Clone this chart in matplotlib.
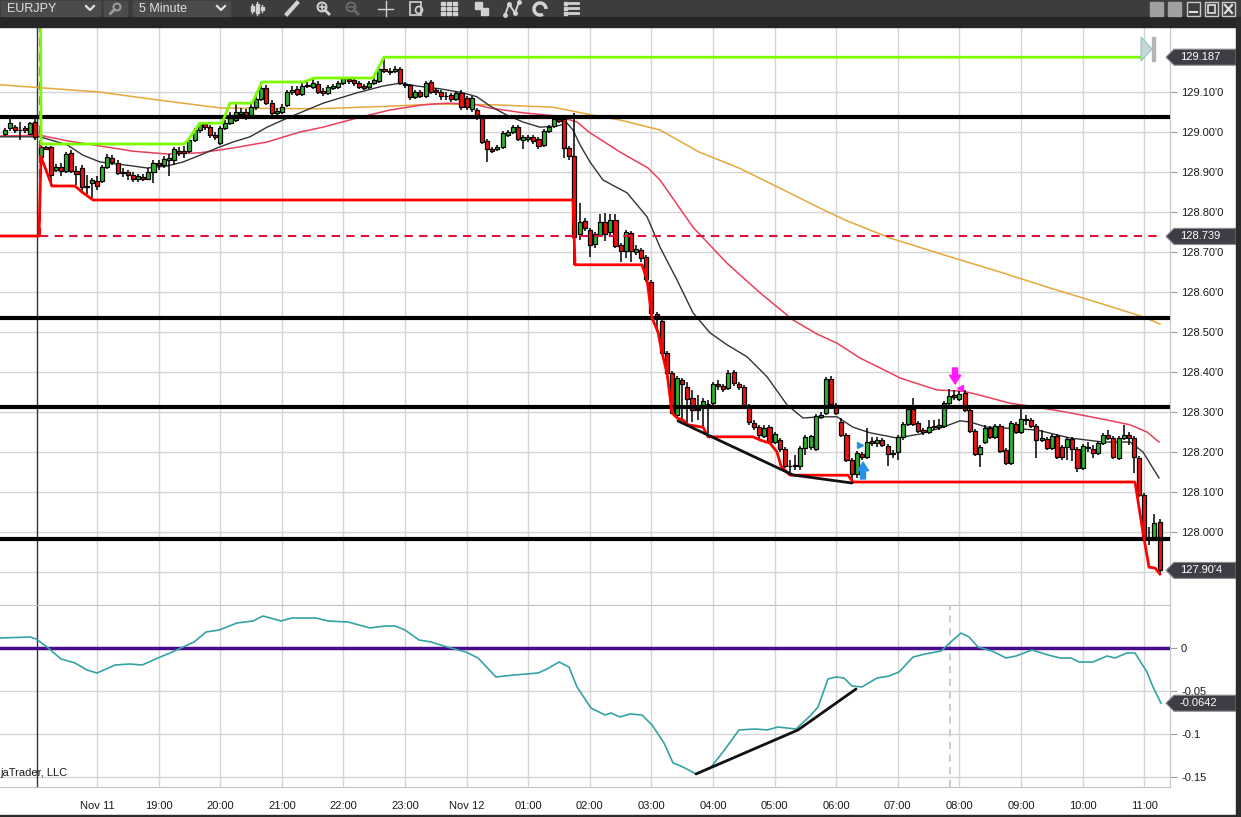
"""EURJPY 5 minute chart with session high/low, moving averages and oscillator panel."""
import numpy as np
import matplotlib
matplotlib.use("Agg")
import matplotlib.pyplot as plt
from matplotlib.patches import Rectangle, Polygon, Circle, Arc
from matplotlib.transforms import blended_transform_factory
from matplotlib.ticker import FuncFormatter

plt.rcParams['font.family'] = ['Liberation Sans', 'DejaVu Sans']

# ---------------------------------------------------------------- data
# time axis: hours from Nov 11 18:00, one candle every 5 minutes, first one 16:30
first_bar = -18
opens = [
    128.995, 129.010, 129.012, 129.005, 129.010, 128.995, 129.025, 128.938, 128.962, 128.962,
    128.905, 128.912, 128.902, 128.948, 128.902, 128.910, 128.865, 128.872, 128.878, 128.878,
    128.912, 128.935, 128.922, 128.900, 128.900, 128.892, 128.882, 128.888, 128.882, 128.900,
    128.922, 128.918, 128.930, 128.930, 128.952, 128.952, 128.952, 128.980, 129.005, 129.020,
    129.012, 128.992, 128.972, 129.010, 129.022, 129.030, 129.045, 129.050, 129.042, 129.062,
    129.082, 129.110, 129.072, 129.048, 129.050, 129.068, 129.100, 129.108, 129.095, 129.115,
    129.112, 129.120, 129.102, 129.098, 129.110, 129.112, 129.122, 129.132, 129.130, 129.122,
    129.115, 129.112, 129.122, 129.128, 129.158, 129.152, 129.152, 129.158, 129.120, 129.118,
    129.088, 129.100, 129.090, 129.125, 129.105, 129.100, 129.090, 129.092, 129.082, 129.098,
    129.085, 129.058, 129.055, 129.035, 128.978, 128.958, 128.958, 128.962, 128.992, 129.000,
    129.012, 128.980, 128.982, 128.988, 128.982, 128.968, 129.002, 129.015, 129.032, 129.032,
    128.960, 128.940, 128.745, 128.778, 128.755, 128.720, 128.742, 128.775, 128.750, 128.780,
    128.718, 128.702, 128.748, 128.700, 128.705, 128.688, 128.625, 128.545, 128.528, 128.448,
    128.398, 128.292, 128.380, 128.362, 128.335, 128.308, 128.312, 128.320, 128.322, 128.370,
    128.365, 128.360, 128.400, 128.370, 128.362, 128.315, 128.272, 128.262, 128.240, 128.262,
    128.225, 128.230, 128.208, 128.165, 128.165, 128.165, 128.210, 128.212, 128.208, 128.288,
    128.298, 128.382, 128.318, 128.275, 128.242, 128.180, 128.145, 128.195, 128.188, 128.228,
    128.222, 128.230, 128.215, 128.198, 128.200, 128.238, 128.270, 128.308, 128.272, 128.255,
    128.250, 128.262, 128.262, 128.265, 128.322, 128.342, 128.332, 128.348, 128.305, 128.252,
    128.195, 128.225, 128.260, 128.238, 128.265, 128.205, 128.172, 128.270, 128.250, 128.282,
    128.280, 128.265, 128.230, 128.232, 128.210, 128.240, 128.212, 128.212, 128.232, 128.208,
    128.160, 128.212, 128.208, 128.198, 128.222, 128.242, 128.235, 128.185, 128.235, 128.242,
    128.235, 128.185, 128.092, 127.985, 127.985, 128.025,
]
highs = [
    129.010, 129.032, 129.018, 129.025, 129.015, 129.025, 129.035, 128.968, 128.965, 128.965,
    128.920, 128.922, 128.950, 128.955, 128.915, 128.918, 128.892, 128.885, 128.890, 128.918,
    128.945, 128.942, 128.930, 128.910, 128.905, 128.900, 128.895, 128.895, 128.910, 128.930,
    128.930, 128.940, 128.945, 128.962, 128.962, 128.965, 128.980, 129.010, 129.022, 129.020,
    129.018, 129.000, 129.015, 129.030, 129.050, 129.072, 129.060, 129.058, 129.072, 129.098,
    129.125, 129.118, 129.080, 129.060, 129.070, 129.105, 129.115, 129.115, 129.122, 129.125,
    129.135, 129.128, 129.110, 129.118, 129.120, 129.128, 129.135, 129.135, 129.135, 129.128,
    129.120, 129.128, 129.135, 129.165, 129.187, 129.160, 129.165, 129.162, 129.125, 129.120,
    129.105, 129.105, 129.128, 129.130, 129.110, 129.105, 129.100, 129.098, 129.102, 129.105,
    129.090, 129.090, 129.060, 129.040, 128.982, 128.962, 128.968, 129.002, 129.005, 129.018,
    129.018, 128.992, 128.992, 128.992, 128.988, 129.008, 129.018, 129.038, 129.038, 129.038,
    128.965, 129.048, 128.822, 128.785, 128.760, 128.750, 128.795, 128.798, 128.795, 128.795,
    128.722, 128.755, 128.752, 128.718, 128.710, 128.692, 128.630, 128.550, 128.532, 128.452,
    128.402, 128.390, 128.385, 128.375, 128.355, 128.342, 128.335, 128.330, 128.375, 128.380,
    128.370, 128.405, 128.405, 128.375, 128.368, 128.320, 128.280, 128.268, 128.268, 128.268,
    128.250, 128.235, 128.212, 128.180, 128.192, 128.215, 128.242, 128.242, 128.295, 128.300,
    128.388, 128.390, 128.322, 128.285, 128.248, 128.185, 128.202, 128.200, 128.260, 128.238,
    128.238, 128.235, 128.220, 128.205, 128.242, 128.275, 128.312, 128.335, 128.278, 128.260,
    128.280, 128.280, 128.282, 128.328, 128.358, 128.355, 128.352, 128.355, 128.310, 128.258,
    128.218, 128.268, 128.265, 128.270, 128.270, 128.210, 128.278, 128.275, 128.318, 128.292,
    128.285, 128.270, 128.255, 128.238, 128.245, 128.245, 128.218, 128.238, 128.238, 128.212,
    128.220, 128.225, 128.218, 128.228, 128.248, 128.255, 128.240, 128.240, 128.268, 128.250,
    128.240, 128.190, 128.098, 128.012, 128.045, 128.032,
]
lows = [
    128.990, 129.002, 128.998, 128.980, 128.998, 128.992, 128.980, 128.935, 128.955, 128.865,
    128.900, 128.890, 128.898, 128.898, 128.868, 128.850, 128.845, 128.830, 128.855, 128.872,
    128.908, 128.918, 128.892, 128.888, 128.880, 128.875, 128.875, 128.878, 128.880, 128.872,
    128.905, 128.910, 128.890, 128.918, 128.940, 128.935, 128.948, 128.975, 128.998, 129.005,
    128.985, 128.980, 128.968, 129.005, 129.018, 129.025, 129.035, 129.030, 129.038, 129.055,
    129.078, 129.068, 129.040, 129.040, 129.045, 129.062, 129.092, 129.090, 129.090, 129.110,
    129.108, 129.095, 129.090, 129.092, 129.105, 129.108, 129.118, 129.120, 129.115, 129.108,
    129.105, 129.108, 129.118, 129.122, 129.148, 129.142, 129.148, 129.118, 129.110, 129.080,
    129.082, 129.085, 129.085, 129.095, 129.092, 129.080, 129.080, 129.075, 129.078, 129.055,
    129.055, 129.050, 129.030, 128.970, 128.925, 128.948, 128.952, 128.958, 128.988, 128.995,
    128.978, 128.958, 128.975, 128.970, 128.958, 128.962, 128.998, 129.010, 129.022, 128.935,
    128.930, 128.668, 128.730, 128.752, 128.688, 128.710, 128.738, 128.728, 128.742, 128.710,
    128.675, 128.685, 128.675, 128.692, 128.675, 128.625, 128.535, 128.500, 128.442, 128.392,
    128.297, 128.285, 128.280, 128.268, 128.275, 128.280, 128.262, 128.238, 128.318, 128.355,
    128.350, 128.355, 128.365, 128.355, 128.310, 128.268, 128.255, 128.230, 128.235, 128.222,
    128.220, 128.200, 128.160, 128.142, 128.155, 128.155, 128.192, 128.205, 128.202, 128.282,
    128.292, 128.315, 128.292, 128.238, 128.175, 128.125, 128.135, 128.180, 128.182, 128.215,
    128.212, 128.212, 128.165, 128.185, 128.180, 128.230, 128.265, 128.265, 128.248, 128.242,
    128.245, 128.255, 128.255, 128.260, 128.318, 128.330, 128.328, 128.300, 128.248, 128.190,
    128.162, 128.220, 128.232, 128.232, 128.198, 128.168, 128.168, 128.245, 128.245, 128.268,
    128.260, 128.185, 128.225, 128.205, 128.205, 128.182, 128.180, 128.180, 128.178, 128.150,
    128.155, 128.200, 128.185, 128.192, 128.218, 128.230, 128.182, 128.180, 128.230, 128.218,
    128.148, 128.088, 127.980, 127.968, 127.978, 127.898,
]
closes = [
    129.005, 129.022, 129.005, 129.004, 129.005, 129.022, 128.988, 128.962, 128.958, 128.892,
    128.912, 128.902, 128.945, 128.902, 128.895, 128.862, 128.862, 128.880, 128.865, 128.912,
    128.938, 128.925, 128.898, 128.898, 128.892, 128.882, 128.890, 128.882, 128.900, 128.922,
    128.918, 128.932, 128.935, 128.958, 128.948, 128.948, 128.980, 129.005, 129.022, 129.012,
    128.992, 128.988, 129.010, 129.022, 129.035, 129.050, 129.050, 129.042, 129.062, 129.082,
    129.110, 129.072, 129.048, 129.052, 129.062, 129.100, 129.105, 129.095, 129.115, 129.118,
    129.122, 129.100, 129.098, 129.112, 129.115, 129.122, 129.135, 129.128, 129.122, 129.112,
    129.110, 129.122, 129.130, 129.158, 129.152, 129.150, 129.158, 129.122, 129.118, 129.088,
    129.100, 129.090, 129.122, 129.100, 129.100, 129.090, 129.089, 129.082, 129.098, 129.062,
    129.062, 129.085, 129.040, 128.975, 128.958, 128.952, 128.962, 128.998, 129.000, 129.012,
    128.982, 128.988, 128.988, 128.978, 128.965, 129.002, 129.012, 129.032, 129.028, 128.960,
    128.940, 128.738, 128.775, 128.760, 128.718, 128.745, 128.775, 128.745, 128.780, 128.715,
    128.702, 128.750, 128.702, 128.708, 128.685, 128.632, 128.548, 128.535, 128.448, 128.398,
    128.298, 128.385, 128.370, 128.332, 128.305, 128.306, 128.328, 128.319, 128.370, 128.365,
    128.358, 128.398, 128.372, 128.362, 128.315, 128.275, 128.262, 128.242, 128.260, 128.225,
    128.245, 128.208, 128.165, 128.164, 128.168, 128.210, 128.238, 128.240, 128.290, 128.292,
    128.382, 128.320, 128.298, 128.242, 128.180, 128.145, 128.198, 128.188, 128.225, 128.222,
    128.230, 128.218, 128.195, 128.194, 128.238, 128.270, 128.308, 128.270, 128.252, 128.250,
    128.262, 128.265, 128.268, 128.322, 128.340, 128.338, 128.345, 128.305, 128.252, 128.195,
    128.212, 128.260, 128.238, 128.265, 128.202, 128.172, 128.272, 128.250, 128.282, 128.280,
    128.265, 128.230, 128.235, 128.210, 128.240, 128.188, 128.188, 128.232, 128.208, 128.160,
    128.215, 128.210, 128.198, 128.222, 128.242, 128.235, 128.188, 128.235, 128.242, 128.235,
    128.188, 128.092, 127.985, 127.982, 128.022, 127.904,
]

# session high / low step lines (time, price)
sess_hi_t = [-0.917, -0.909, 1.412, 1.477, 1.672, 2.029, 2.159, 2.516, 2.679, 3.360,
             3.523, 4.481, 4.659, 16.98]
sess_hi_p = [129.30, 128.97, 128.97, 128.98, 129.022, 129.022, 129.072, 129.072, 129.125, 129.125,
             129.135, 129.135, 129.187, 129.187]
sess_lo_t = [-1.58, -0.942, -0.909, -0.731, -0.357, -0.244, -0.065, 7.727, 7.760, 8.847,
             8.929, 9.010, 9.107, 9.172, 9.253, 9.334, 9.416, 9.513, 9.594, 9.838,
             9.919, 10.649, 10.763, 10.925, 11.039, 11.104, 11.25, 12.192, 12.273, 16.851,
             16.981, 17.078, 17.175, 17.256]
sess_lo_p = [128.74, 128.74, 128.938, 128.865, 128.865, 128.85, 128.83, 128.83, 128.668, 128.668,
             128.63, 128.535, 128.50, 128.448, 128.398, 128.298, 128.285, 128.28, 128.268, 128.262,
             128.238, 128.238, 128.23, 128.222, 128.20, 128.165, 128.142, 128.142, 128.125, 128.125,
             127.998, 127.912, 127.91, 127.895]
prior_low = 128.739
prior_low_t = [-0.925, 17.26]
session_start = -0.974          # session break
session_break_red = -0.925

# moving averages (time, price)
fast_ma_t = [-1.575, -0.925, -0.487, -0.227, 0.049, 0.325, 0.584, 0.812, 1.136, 1.396,
             1.672, 1.948, 2.208, 2.484, 2.760, 3.019, 3.295, 3.669, 4.221, 4.643,
             4.919, 5.195, 5.568, 5.942, 6.169, 6.380, 6.656, 6.916, 7.192, 7.468,
             7.630, 7.727, 7.841, 8.003, 8.214, 8.604, 8.929, 9.140, 9.416, 9.675,
             9.951, 10.227, 10.552, 10.877, 11.201, 11.461, 11.737, 12.013, 12.273, 12.549,
             12.987, 13.360, 13.734, 14.010, 14.172, 14.448, 14.708, 15.260, 15.795, 16.331,
             16.769, 16.981, 17.240]
fast_ma_p = [128.988, 128.988, 128.968, 128.942, 128.925, 128.920, 128.915, 128.910, 128.915, 128.925,
             128.942, 128.960, 128.975, 128.988, 129.012, 129.030, 129.048, 129.072, 129.098, 129.115,
             129.122, 129.115, 129.108, 129.098, 129.088, 129.065, 129.042, 129.025, 129.012, 129.015,
             129.022, 129.005, 128.968, 128.925, 128.880, 128.848, 128.788, 128.712, 128.630, 128.548,
             128.498, 128.468, 128.438, 128.388, 128.318, 128.285, 128.288, 128.288, 128.262, 128.248,
             128.235, 128.245, 128.262, 128.278, 128.275, 128.262, 128.260, 128.255, 128.235, 128.225,
             128.225, 128.200, 128.135]
mid_ma_t = [-1.575, -0.925, -0.487, 0.049, 0.584, 1.136, 1.672, 2.208, 2.760, 3.295,
            3.669, 4.221, 4.756, 5.292, 5.682, 6.104, 6.380, 6.916, 7.468, 7.792,
            8.003, 8.490, 8.945, 9.140, 9.675, 10.227, 10.763, 11.299, 11.688, 12.013,
            12.386, 12.873, 13.036, 13.636, 14.058, 14.334, 14.821, 15.260, 15.795, 16.331,
            16.769, 17.045, 17.240]
mid_ma_p = [128.990, 128.992, 128.978, 128.965, 128.952, 128.945, 128.948, 128.960, 128.975, 129.000,
            129.012, 129.035, 129.055, 129.068, 129.072, 129.070, 129.060, 129.048, 129.040, 129.025,
            128.998, 128.950, 128.910, 128.880, 128.762, 128.672, 128.598, 128.530, 128.495, 128.472,
            128.435, 128.398, 128.385, 128.355, 128.352, 128.342, 128.322, 128.312, 128.298, 128.282,
            128.268, 128.250, 128.225]
slow_ma_t = [-1.575, 0.032, 0.990, 2.013, 3.555, 4.838, 5.487, 6.445, 7.403, 8.052,
             8.490, 9.140, 9.773, 10.422, 11.055, 11.705, 12.143, 12.873, 13.847, 14.659,
             15.471, 16.282, 16.981, 17.256]
slow_ma_p = [129.118, 129.100, 129.080, 129.060, 129.058, 129.065, 129.070, 129.068, 129.062, 129.042,
             129.030, 129.005, 128.950, 128.910, 128.862, 128.812, 128.780, 128.735, 128.688, 128.650,
             128.610, 128.572, 128.538, 128.520]

# horizontal levels and drawn trend lines
levels = [129.0375, 128.535, 128.3125, 127.9825]
trend_t = [9.432, 11.299, 12.256]
trend_p = [128.2775, 128.1425, 128.1225]

# oscillator (time, value)
osc_t = [-1.575, -1.088, -0.990, -0.812, -0.584, -0.357, -0.162, 0.0, 0.292, 0.536,
         0.731, 0.990, 1.185, 1.575, 1.769, 1.981, 2.273, 2.532, 2.695, 2.987,
         3.166, 3.555, 3.750, 4.075, 4.432, 4.675, 4.838, 5.0, 5.227, 5.422,
         5.682, 5.990, 6.185, 6.477, 6.769, 7.159, 7.305, 7.5, 7.662, 7.792,
         8.019, 8.247, 8.344, 8.490, 8.653, 8.847, 9.010, 9.205, 9.351, 9.513,
         9.724, 9.968, 10.162, 10.422, 10.682, 10.877, 11.055, 11.347, 11.575, 11.705,
         11.867, 11.997, 12.127, 12.256, 12.419, 12.662, 12.857, 13.019, 13.247, 13.442,
         13.701, 13.896, 14.026, 14.156, 14.302, 14.529, 14.756, 14.919, 15.179, 15.438,
         15.633, 15.812, 15.942, 16.169, 16.396, 16.526, 16.721, 16.851, 17.045, 17.143,
         17.273]
osc_v = [0.0116, 0.0128, 0.0105, 0.0012, -0.0128, -0.0174, -0.0256, -0.0291, -0.0198, -0.0186,
         -0.0198, -0.0116, -0.0058, 0.0070, 0.0186, 0.0209, 0.0291, 0.0314, 0.0372, 0.0314,
         0.0349, 0.0349, 0.0314, 0.0302, 0.0233, 0.0256, 0.0256, 0.0209, 0.0093, 0.0070,
         0.0012, -0.0047, -0.0116, -0.0337, -0.0314, -0.0291, -0.0244, -0.0163, -0.0221, -0.0453,
         -0.0698, -0.0779, -0.0756, -0.0802, -0.0767, -0.0779, -0.0895, -0.1105, -0.1337, -0.1384,
         -0.1465, -0.1384, -0.1209, -0.0953, -0.0942, -0.0953, -0.0919, -0.0942, -0.0791, -0.0686,
         -0.0360, -0.0337, -0.0349, -0.0442, -0.0453, -0.0349, -0.0326, -0.0279, -0.0105, -0.0070,
         -0.0035, 0.0093, 0.0174, 0.0128, 0.0012, -0.0035, -0.0116, -0.0093, -0.0023, -0.0081,
         -0.0116, -0.0116, -0.0163, -0.0163, -0.0093, -0.0116, -0.0058, -0.0058, -0.0279, -0.0453,
         -0.0642]
osc_trend_t = [9.724, 11.380, 12.321]
osc_trend_v = [-0.1465, -0.0953, -0.0477]

# signal markers
short_signal = (13.93, 128.41, 128.37)   # time, arrow top, arrow tip
short_flag = (14.01, 128.36)
long_signal = (12.435, 128.1325, 128.175)
long_flag = (12.386, 128.2175)
signal_line_t = 13.847

hour_ticks = list(range(18))
hour_labels = ['Nov 11', '19:00', '20:00', '21:00', '22:00', '23:00', 'Nov 12',
               '01:00', '02:00', '03:00', '04:00', '05:00', '06:00', '07:00',
               '08:00', '09:00', '10:00', '11:00']
price_ticks = [127.9, 128.0, 128.1, 128.2, 128.3, 128.4, 128.5, 128.6, 128.7,
               128.8, 128.9, 129.0, 129.1]
osc_ticks = [-0.15, -0.1, -0.05, 0]

assert len(opens) == len(highs) == len(lows) == len(closes)

# ---------------------------------------------------------------- layout
W, H = 1241, 817
PLOT_R = 1170
fig = plt.figure(figsize=(W / 100, H / 100), dpi=100, facecolor='white')
ax = fig.add_axes([0, 1 - 605 / H, PLOT_R / W, (605 - 27) / H])
ind = fig.add_axes([0, 1 - 787 / H, PLOT_R / W, (787 - 605) / H])

GRID = '#d4d4d4'
SPINE = '#c4c4c4'
GREEN = '#2cb52c'
RED = '#f01212'

for a in (ax, ind):
    a.set_facecolor('white')
    a.set_axisbelow(True)
    a.grid(True, color=GRID, lw=1)
    a.set_xticks(hour_ticks)
    a.yaxis.tick_right()
    a.spines['left'].set_visible(False)
    for s in ('right', 'bottom', 'top'):
        a.spines[s].set_color(SPINE)
    a.tick_params(axis='y', length=5, color='#a0a0a0', labelsize=8, pad=3,
                  labelcolor='#1a1a1a')
    a.axvline(session_start, color='#333333', lw=1, zorder=2)
ax.spines['top'].set_visible(False)
ax.tick_params(axis='x', length=0, labelbottom=False)
ind.set_xticklabels(hour_labels)
ind.tick_params(axis='x', length=0, pad=10, labelsize=8, labelcolor='#1a1a1a')

# ---------------------------------------------------------------- price panel
o = np.array(opens)
hi = np.array(highs)
lo = np.array(lows)
c = np.array(closes)
bar_t = (first_bar + np.arange(len(c))) / 12.0

ax.plot(slow_ma_t, slow_ma_p, color='#e6a83a', lw=1.1, zorder=2)
ax.plot(mid_ma_t, mid_ma_p, color='#e8405c', lw=1.1, zorder=2)
ax.plot(fast_ma_t, fast_ma_p, color='#333333', lw=1.0, zorder=2)

ax.vlines(bar_t, lo, hi, color='black', lw=1.1, zorder=3)
body_cols = np.where(c > o, GREEN, np.where(c < o, RED, 'black'))
ax.bar(bar_t, np.maximum(np.abs(c - o), 0.0015), bottom=np.minimum(o, c), width=0.066,
       color=body_cols, edgecolor='black', linewidth=0.9, zorder=4)

for lv in levels:
    ax.axhline(lv, color='black', lw=3, zorder=5)
ax.plot(prior_low_t, [prior_low, prior_low], color='#dc143c', lw=1.5,
        dashes=(4, 3), zorder=5)
ax.plot([session_break_red, session_break_red], [prior_low, 129.3], color='#dc143c',
        lw=1.5, dashes=(4, 3), zorder=5)
ax.plot(sess_hi_t, sess_hi_p, color='#7cfc00', lw=2, zorder=6)
ax.plot(sess_lo_t, sess_lo_p, color='#ff0000', lw=2, zorder=6)
ax.plot(trend_t, trend_p, color='#111111', lw=2, zorder=6, solid_capstyle='round')

arrow = 'simple,head_width=0.9,head_length=0.7,tail_width=0.4'
ax.annotate('', xy=(short_signal[0], short_signal[2]), xytext=(short_signal[0], short_signal[1]),
            arrowprops=dict(arrowstyle=arrow, color='#ff1aff', mutation_scale=9,
                            shrinkA=0, shrinkB=0), zorder=7)
ax.plot(*short_flag, marker='<', ms=5, color='#ff1aff', zorder=7)
ax.annotate('', xy=(long_signal[0], long_signal[2]), xytext=(long_signal[0], long_signal[1]),
            arrowprops=dict(arrowstyle=arrow, color='#2a8fe6', mutation_scale=9,
                            shrinkA=0, shrinkB=0), zorder=7)
ax.plot(*long_flag, marker='>', ms=5, color='#2a8fe6', zorder=7)

# the lowest grid line keeps its tick, its label sits under the last-price tag
ax.set_yticks(price_ticks)
ax.yaxis.set_major_formatter(
    FuncFormatter(lambda v, _: '' if v < price_ticks[1] - 0.05 else f"{v:.2f}'0"))

# ---------------------------------------------------------------- oscillator panel
ind.axhline(0, color='#4a0a8c', lw=2.5, zorder=3)
ind.axvline(signal_line_t, color='#c8c8c8', lw=1.3, dashes=(4, 3), zorder=2)
ind.plot(osc_t, osc_v, color='#35a3a3', lw=1.2, zorder=4)
ind.plot(osc_trend_t, osc_trend_v, color='#111111', lw=2, zorder=5, solid_capstyle='round')
ind.set_yticks(osc_ticks)
ind.yaxis.set_major_formatter(FuncFormatter(lambda v, _: f"{v:g}"))
ind.text(0.0, 0.077, 'jaTrader, LLC', transform=ind.transAxes, fontsize=8,
         color='#1a1a1a', ha='left', va='center')


# value tags on the right scale
def value_tag(axis, value, text, half):
    tr = blended_transform_factory(axis.transAxes, axis.transData)
    x0, x1, x2 = 1166 / PLOT_R, 1174 / PLOT_R, 1236 / PLOT_R
    axis.add_patch(Polygon([(x0, value), (x1, value + half), (x2, value + half),
                            (x2, value - half), (x1, value - half)], closed=True,
                           transform=tr, clip_on=False, fc='#3d3d45', ec='#8c8c8c',
                           lw=0.8, zorder=10))
    axis.text(1180 / PLOT_R, value, text, transform=tr, color='white', fontsize=8,
              ha='left', va='center', clip_on=False, zorder=11)


last = closes[-1]
value_tag(ax, sess_hi_p[-1], f'{sess_hi_p[-1]:.3f}', 0.02)
value_tag(ax, prior_low, f'{prior_low:.3f}', 0.02)
value_tag(ax, last, f"{last:.2f}'{int(round(last * 1000)) % 10}", 0.02)
value_tag(ind, osc_v[-1], f'{osc_v[-1]:.4f}', 0.0093)

ax.set_xlim(-1.575, (PLOT_R - 97) / 61.6)
ax.set_ylim(129.33 - 605 / 400, 129.33 - 27 / 400)
ind.set_xlim(ax.get_xlim())
ind.set_ylim(-(787 - 648) / 860, (648 - 605) / 860)

# ---------------------------------------------------------------- window chrome
ov = fig.add_axes([0, 0, 1, 1])
ov.set_xlim(0, W)
ov.set_ylim(H, 0)
ov.axis('off')
ov.patch.set_alpha(0)

ov.add_patch(Rectangle((0, 0), W, 17, color='#3d3d3d'))
ov.add_patch(Rectangle((0, 17), W, 10, color='#262626'))
ov.add_patch(Rectangle((1236, 17), 5, H, color='#2b2b2b'))
ov.add_patch(Rectangle((0, 815), W, 2, color='#2b2b2b'))
ICON = '#d2d2d2'

# symbol / interval boxes
for x0, w in ((1, 99), (104, 23), (133, 97)):
    ov.add_patch(Rectangle((x0, 1), w, 15, color='#4b4b4b'))
ov.text(7, 9, 'EURJPY', color='#e0e0e0', fontsize=9, va='center', ha='left')
ov.text(139, 9, '5 Minute', color='#e0e0e0', fontsize=9, va='center', ha='left')
for cx in (90, 221):
    ov.plot([cx - 4, cx, cx + 4], [6, 10, 6], color='#e0e0e0', lw=1.6)
ov.add_patch(Circle((117, 7), 3.5, fill=False, ec='#9a9a9a', lw=1.5))
ov.plot([114.5, 110.5], [9.5, 13.5], color='#9a9a9a', lw=2)

# toolbar icons
for dx, top, bot in ((-5, 4, 13), (0, 2, 15), (5, 5, 12)):
    ov.plot([257 + dx, 257 + dx], [top, bot], color=ICON, lw=1)
    ov.add_patch(Rectangle((255.5 + dx, top + 2), 3, bot - top - 4, color=ICON))
ov.plot([287, 297], [14, 3], color=ICON, lw=3)
for cx, col, plus in ((322, ICON, True), (351, '#6a6a6a', False)):
    ov.add_patch(Circle((cx, 7), 4.5, fill=False, ec=col, lw=1.4))
    ov.plot([cx + 3, cx + 7], [10, 14], color=col, lw=2)
    ov.plot([cx - 2.5, cx + 2.5], [7, 7], color=col, lw=1.2)
    if plus:
        ov.plot([cx, cx], [4.5, 9.5], color=col, lw=1.2)
ov.plot([378, 393], [9, 9], color=ICON, lw=1)
ov.plot([385.5, 385.5], [1, 16], color=ICON, lw=1)
ov.add_patch(Rectangle((410, 2), 11, 13, fill=False, ec=ICON, lw=1.2))
ov.add_patch(Circle((419, 10), 3.5, fill=False, ec=ICON, lw=1.2))
for gx in (443, 449, 455):
    for gy in (3, 8, 13):
        ov.add_patch(Rectangle((gx - 2, gy - 1.5), 4, 3, color=ICON))
ov.add_patch(Rectangle((475, 2), 7, 7, color=ICON))
ov.add_patch(Rectangle((481, 8), 7, 7, color=ICON))
ov.plot([505, 509, 515, 519], [15, 4, 13, 2], color=ICON, lw=1.4, marker='o', ms=2.5)
ov.add_patch(Arc((540, 9), 12, 12, theta1=60, theta2=360, ec=ICON, lw=2.5))
for ly in (3, 8, 13):
    ov.add_patch(Rectangle((564, ly - 1), 3, 2.5, color=ICON))
    ov.plot([569, 578], [ly, ly], color=ICON, lw=2)

# window buttons
ov.add_patch(Rectangle((1150, 2), 13, 14, color='#a0a0a0'))
ov.add_patch(Rectangle((1168, 2), 13, 14, color='#a0a0a0'))
for bx in (1187, 1205, 1222):
    ov.add_patch(Rectangle((bx, 2), 13, 14, fill=False, ec='#c8c8c8', lw=1))
ov.plot([1190, 1197], [12, 12], color='#e0e0e0', lw=1.5)
ov.add_patch(Rectangle((1208, 5), 7, 8, fill=False, ec='#e0e0e0', lw=1.2))
ov.plot([1225, 1232], [5, 13], color='#e0e0e0', lw=1.6)
ov.plot([1225, 1232], [13, 5], color='#e0e0e0', lw=1.6)

# current bar marker at the top right
ov.add_patch(Polygon([(1141, 37), (1152, 49), (1141, 61)], closed=True, fc='#c9d6d6',
                     ec='#8fc7c7', lw=0.8))
ov.add_patch(Rectangle((1151.5, 37), 3, 24, color='#b4b4b4'))

fig.savefig('out.png', dpi=100, facecolor='white')
